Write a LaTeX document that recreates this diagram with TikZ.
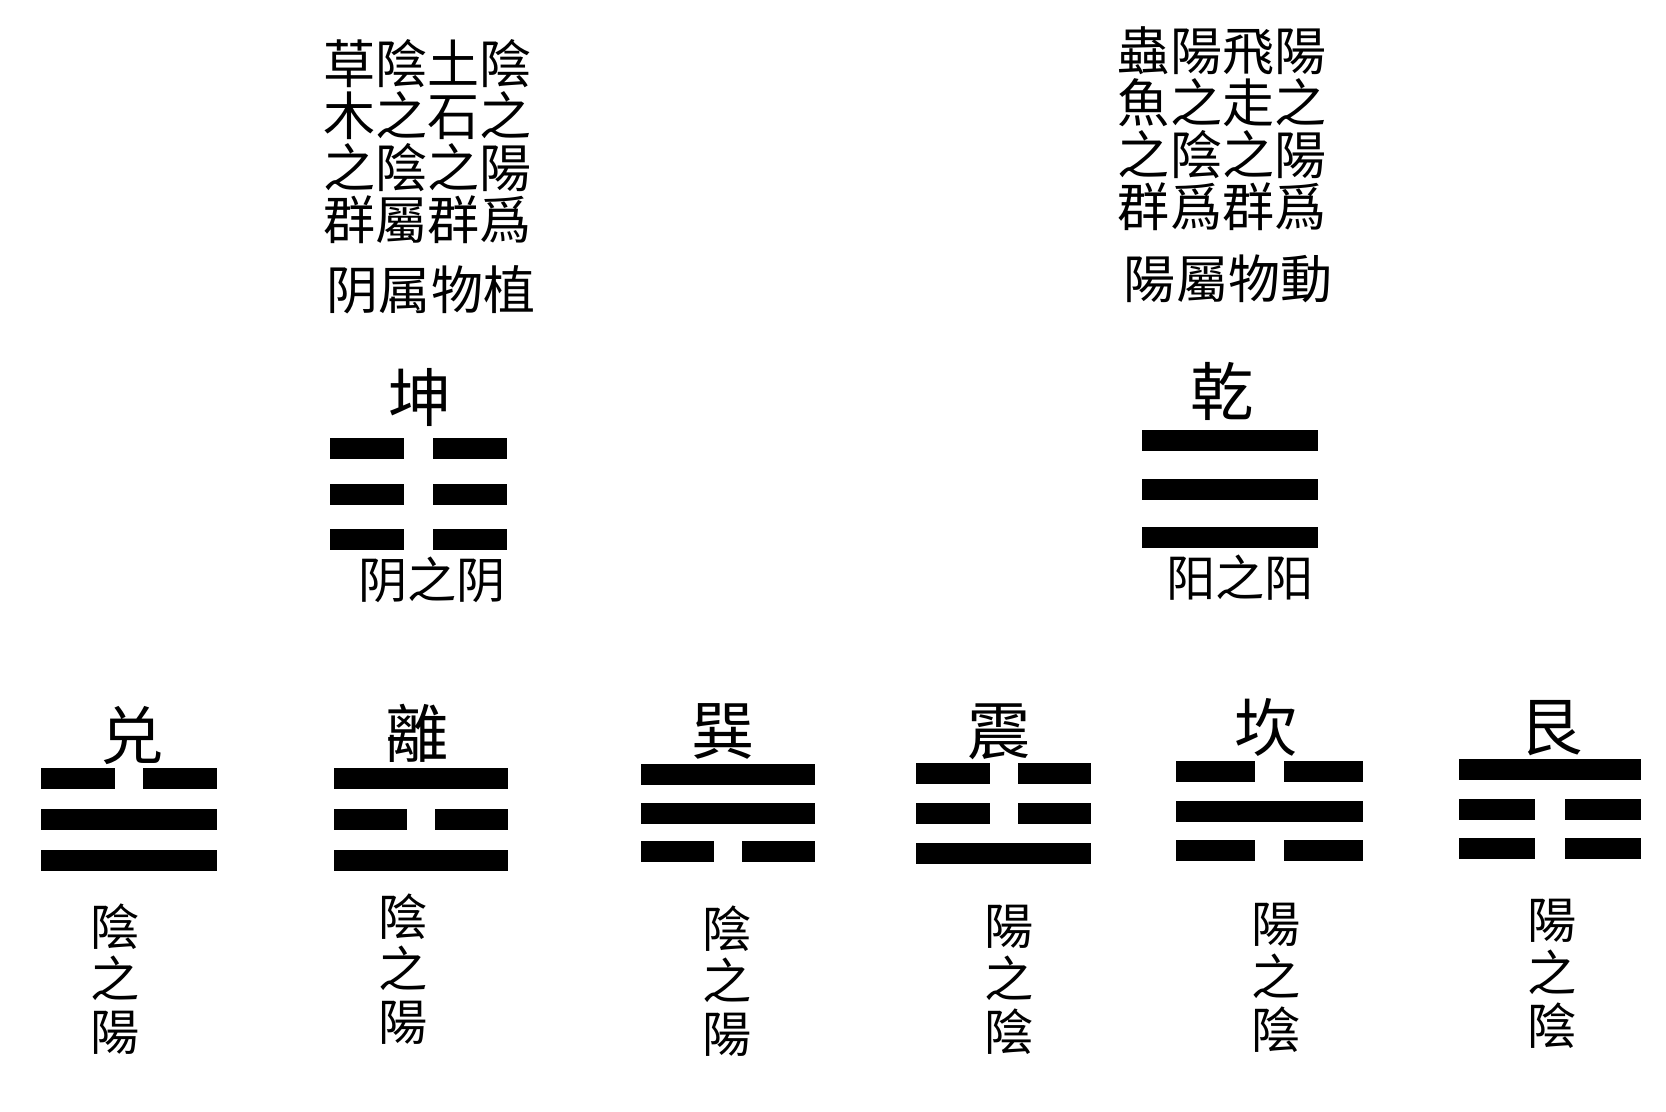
\documentclass[tikz,border=0pt]{standalone}
\usepackage{fontspec}
\newfontfamily\cjk{Noto Sans CJK TC}

% one trigram: left x, top y, width, line pitch, lines from the top (1 yang, 0 yin)
\newcommand{\gua}[5]{%
  \foreach \k [count=\i from 0] in {#5}{%
    \ifnum\k=1
      \fill[bar] (#1,#2-\i*#4) rectangle ++(#3,-0.21);
    \else
      \fill[bar] (#1,#2-\i*#4) rectangle ++(0.42*#3,-0.21);
      \fill[bar] (#1+0.58*#3,#2-\i*#4) rectangle ++(0.42*#3,-0.21);
    \fi}}

\begin{document}
\begin{tikzpicture}[font=\cjk,
        bar/.style={fill=black},
        guaname/.style={inner sep=0pt, font=\cjk\fontsize{18}{18}\selectfont},
        textblock/.style={inner sep=0pt, align=center, font=\cjk\fontsize{14.8}{14.8}\selectfont},
        guatag/.style={inner sep=0pt, font=\cjk\fontsize{14}{14}\selectfont},
        vtag/.style={inner sep=0pt, align=center, font=\cjk\fontsize{14}{15}\selectfont}]
    \useasboundingbox (0,0) rectangle (16.66,-11.11);

    % top: plants and animals
    \node[textblock] (plantrows) at (4.275,-1.415) {草陰土陰\\木之石之\\之陰之陽\\群屬群爲};
    \node[textblock] (plant) at (4.31,-2.90) {阴属物植};
    \node[textblock] (animalrows) at (12.22,-1.285) {蟲陽飛陽\\魚之走之\\之陰之陽\\群爲群爲};
    \node[textblock] (animal) at (12.28,-2.79) {陽屬物動};

    % kun and qian
    \node[guaname] (kun) at (4.20,-3.97) {坤};
    \gua{3.30}{-4.38}{1.77}{0.455}{0,0,0}
    \node[guatag] (kuntag) at (4.32,-5.80) {阴之阴};
    \node[guaname] (qian) at (12.22,-3.91) {乾};
    \gua{11.42}{-4.30}{1.76}{0.485}{1,1,1}
    \node[guatag] (qiantag) at (12.40,-5.78) {阳之阳};

    % the six children
    \node[guaname] (dui) at (1.32,-7.36) {兑};
    \gua{0.415}{-7.68}{1.75}{0.41}{0,1,1}
    \node[vtag] (duitag) at (1.15,-9.79) {陰\\之\\陽};
    \node[guaname] (li) at (4.17,-7.33) {離};
    \gua{3.34}{-7.68}{1.74}{0.41}{1,0,1}
    \node[vtag] (litag) at (4.03,-9.69) {陰\\之\\陽};
    \node[guaname] (xun) at (7.23,-7.31) {巽};
    \gua{6.41}{-7.64}{1.74}{0.385}{1,1,0}
    \node[vtag] (xuntag) at (7.27,-9.81) {陰\\之\\陽};
    \node[guaname] (zhen) at (9.995,-7.32) {震};
    \gua{9.16}{-7.63}{1.75}{0.40}{0,0,1}
    \node[vtag] (zhentag) at (10.09,-9.80) {陽\\之\\陰};
    \node[guaname] (kan) at (12.66,-7.27) {坎};
    \gua{11.76}{-7.61}{1.87}{0.395}{0,1,0}
    \node[vtag] (kantag) at (12.76,-9.78) {陽\\之\\陰};
    \node[guaname] (gen) at (15.51,-7.28) {艮};
    \gua{14.59}{-7.59}{1.82}{0.395}{1,0,0}
    \node[vtag] (gentag) at (15.52,-9.74) {陽\\之\\陰};
\end{tikzpicture}
\end{document}
